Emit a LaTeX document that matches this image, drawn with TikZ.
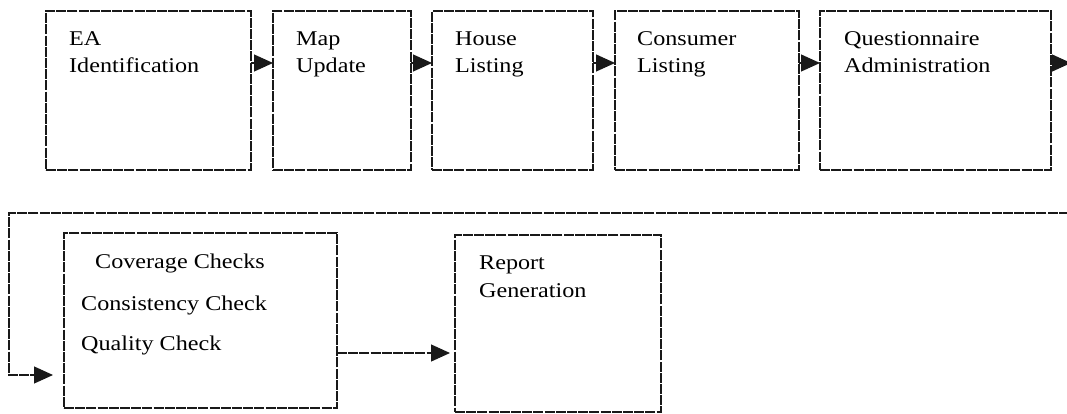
\documentclass[tikz,border=0pt]{standalone}
\usepackage{fontspec}
\setmainfont[FakeStretch=1.15]{Liberation Serif}
\usetikzlibrary{arrows.meta}
\begin{document}
\begin{tikzpicture}[x=1pt,y=-1pt,
  boxstyle/.style={draw=black!90, line width=1.2pt, dash pattern=on 10pt off 1.2pt,
    rectangle, inner sep=0pt, outer sep=0pt, anchor=north west},
  txt/.style={inner sep=0pt, anchor=base west, font=\fontsize{21}{25}\selectfont, text=black},
  link/.style={draw=black!90, line width=1.2pt, dash pattern=on 10pt off 1.2pt,
    -{Triangle[length=19pt,width=17pt]}}
]
\useasboundingbox (0,0) rectangle (1067,414);

% first row of steps
\node[boxstyle, minimum width=205pt, minimum height=159pt] (b1) at (46,11) {};
\node[boxstyle, minimum width=138pt, minimum height=159pt] (b2) at (273,11) {};
\node[boxstyle, minimum width=161pt, minimum height=159pt] (b3) at (432,11) {};
\node[boxstyle, minimum width=184pt, minimum height=159pt] (b4) at (615,11) {};
\node[boxstyle, minimum width=231pt, minimum height=159pt] (b5) at (820,11) {};

\node[txt] (t1a) at (69,46) {EA};
\node[txt] (t1b) at (69,73) {Identification};
\node[txt] (t2a) at (296,46) {Map};
\node[txt] (t2b) at (296,73) {Update};
\node[txt] (t3a) at (455,46) {House};
\node[txt] (t3b) at (455,73) {Listing};
\node[txt] (t4a) at (637,46) {Consumer};
\node[txt] (t4b) at (637,73) {Listing};
\node[txt] (t5a) at (844,46) {Questionnaire};
\node[txt] (t5b) at (844,73) {Administration};

% second row of steps
\node[boxstyle, minimum width=273pt, minimum height=175pt] (b6) at (64,233) {};
\node[boxstyle, minimum width=206pt, minimum height=177pt] (b7) at (455,235) {};

\node[txt] (t6a) at (95,268) {Coverage Checks};
\node[txt] (t6b) at (81,310) {Consistency Check};
\node[txt] (t6c) at (81,350) {Quality Check};
\node[txt] (t7a) at (479,269) {Report};
\node[txt] (t7b) at (479,297) {Generation};

% connectors along the first row
\draw[link] (b1.east |- 0,63) -- (b2.west |- 0,63);
\draw[link] (b2.east |- 0,63) -- (b3.west |- 0,63);
\draw[link] (b3.east |- 0,63) -- (b4.west |- 0,63);
\draw[link] (b4.east |- 0,63) -- (b5.west |- 0,63);
\coordinate (out) at (1071,63);
\draw[link] (b5.east |- 0,63) -- (out);

% return line down to the second row
\coordinate (ret) at (1080,213);
\coordinate (c1) at (9,213);
\coordinate (c2) at (9,375);
\draw[link, shorten >=11pt] (ret) -- (c1) -- (c2) -- (b6.west |- c2);

% connector along the second row
\draw[link, shorten >=5pt] (b6.east |- 0,353) -- (b7.west |- 0,353);
\end{tikzpicture}
\end{document}
